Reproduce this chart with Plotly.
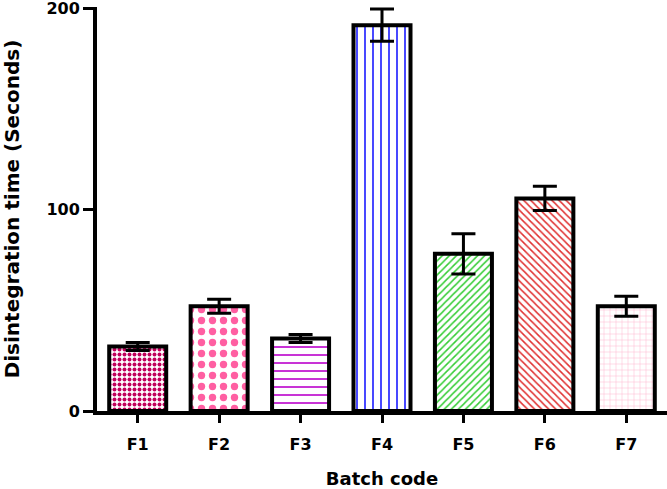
import plotly.graph_objects as go

categories = ["F1", "F2", "F3", "F4", "F5", "F6", "F7"]
values = [32, 52, 36, 191.5, 78, 105.5, 52]
errors = [2, 3.5, 2, 8, 10, 6, 5]
colors = ["#c0005a", "#ff5fa2", "#bb00cc", "#1a1aff", "#33cc33", "#e03030", "#ffb0c8"]
shapes = [".", ".", "-", "|", "/", "\\", "+"]
sizes = [5, 11, 8, 8, 5, 5, 6]
solid = [0.5, 0.35, 0.2, 0.2, 0.3, 0.3, 0.15]

fig = go.Figure()
fig.add_trace(go.Bar(
    x=categories, y=values,
    width=0.7,
    marker=dict(
        color="white",
        line=dict(color="black", width=4),
        pattern=dict(shape=shapes, fgcolor=colors, bgcolor="white",
                     size=sizes, solidity=solid, fillmode="replace"),
    ),
    error_y=dict(type="data", array=errors, color="black", thickness=3, width=12),
    showlegend=False,
))

bold = "DejaVu Sans, Liberation Sans, Arial, sans-serif"
fig.update_layout(
    width=667, height=489,
    margin=dict(l=97, r=0, t=7, b=78),
    plot_bgcolor="white", paper_bgcolor="white",
    font=dict(family=bold, color="black"),
)
fig.update_xaxes(
    range=[-0.5, 6.5], automargin=False,
    showline=True, linecolor="black", linewidth=4,
    ticks="outside", ticklen=8, tickwidth=3, tickcolor="black",
    tickvals=categories, ticktext=["<b>%s</b>" % c for c in categories],
    tickfont=dict(size=16), ticklabelstandoff=8,
    title=dict(text="<b>Batch code</b>", font=dict(size=18), standoff=24),
    showgrid=False, zeroline=False,
)
fig.update_yaxes(
    range=[0, 200.5], automargin=False,
    tickvals=[0, 100, 200], ticktext=["<b>0</b>", "<b>100</b>", "<b>200</b>"],
    showline=True, linecolor="black", linewidth=4,
    ticks="outside", ticklen=10, tickwidth=3, tickcolor="black",
    tickfont=dict(size=16), ticklabeloverflow="allow",
    title=dict(text="<b>Disintegration time (Seconds)</b>", font=dict(size=20), standoff=22),
    showgrid=False, zeroline=False,
)

fig.write_html("out.html", config={"displayModeBar": False},
               post_script="document.body.style.margin='0';")
